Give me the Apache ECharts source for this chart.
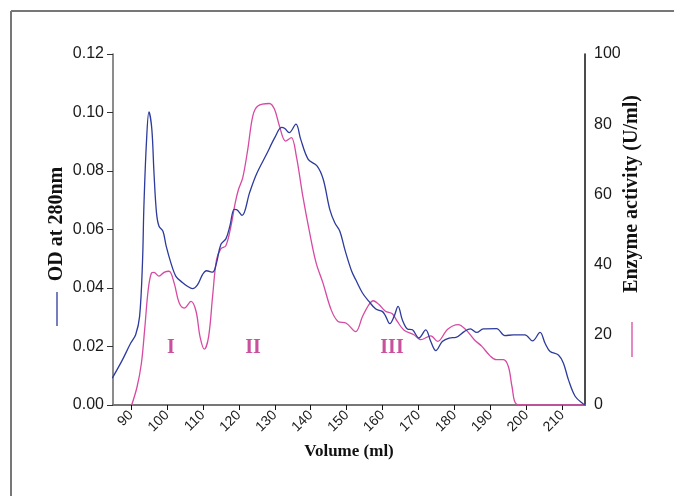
<!DOCTYPE html>
<html>
<head>
<meta charset="utf-8">
<script src="https://cdn.jsdelivr.net/npm/echarts@6/dist/echarts.min.js"></script>
<style>
  html, body { margin: 0; padding: 0; background: #fff; }
  #container { width: 674px; height: 496px; }
</style>
</head>
<body>
<div id="container"></div>
<script>
// OD at 280nm (left axis)
var odVolume = [84.8, 87.4, 89.9, 91.3, 92.4, 93.2, 93.6, 94.3, 95.0, 95.8, 96.4, 97.1, 97.8, 98.9, 99.8,
    101.1, 102.5, 104.3, 105.7, 107.1, 108.5, 109.9, 111.0, 112.7, 113.8, 115.0, 116.4, 117.5, 118.7, 119.4,
    120.9, 123.0, 124.9, 127.7, 130.0, 131.9, 132.8, 134.0, 135.9, 137.2, 139.3, 141.8, 143.5, 145.3, 146.7,
    148.1, 149.5, 151.4, 152.5, 154.4, 156.2, 158.1, 159.9, 160.8, 162.0, 163.2, 164.3, 165.5, 166.9, 168.3,
    170.1, 172.0, 173.4, 174.8, 176.6, 178.5, 180.4, 182.7, 184.4, 186.2, 188.0, 191.7, 194.0, 196.4, 199.6,
    201.7, 203.8, 205.2, 206.6, 208.9, 210.3, 211.7, 213.6, 215.9, 216.3];
var odValues = [0.0092, 0.0149, 0.0211, 0.0240, 0.0303, 0.0486, 0.0680, 0.0897, 0.1002, 0.0943, 0.0794, 0.0657, 0.0611, 0.0594, 0.0543,
    0.0486, 0.0440, 0.0419, 0.0406, 0.0398, 0.0411, 0.0446, 0.0459, 0.0454, 0.0486, 0.0549, 0.0568, 0.0611, 0.0669, 0.0668,
    0.0648, 0.0726, 0.0789, 0.0857, 0.0914, 0.0949, 0.0945, 0.0931, 0.0960, 0.0909, 0.0840, 0.0817, 0.0771, 0.0669, 0.0623,
    0.0594, 0.0531, 0.0457, 0.0429, 0.0383, 0.0354, 0.0328, 0.0320, 0.0305, 0.0278, 0.0303, 0.0337, 0.0291, 0.0260, 0.0257,
    0.0229, 0.0257, 0.0217, 0.0186, 0.0217, 0.0229, 0.0231, 0.0251, 0.0260, 0.0248, 0.0260, 0.0261, 0.0237, 0.0240, 0.0240,
    0.0219, 0.0248, 0.0211, 0.0183, 0.0171, 0.0143, 0.0086, 0.0029, 0.0003, 0.0000];

// Enzyme activity (U/ml) (right axis)
var enzVolume = [90.2, 91.7, 92.9, 93.8, 94.8, 95.7, 96.4, 97.8, 99.2, 100.6, 102.0, 103.4, 104.8, 106.7, 108.1,
    109.2, 110.4, 111.6, 112.7, 113.8, 115.0, 116.4, 117.8, 119.0, 119.9, 121.1, 122.5, 123.9, 125.3, 128.5,
    129.9, 131.3, 133.0, 134.6, 136.0, 137.8, 139.7, 141.5, 143.4, 145.7, 147.6, 149.9, 152.5, 154.4, 156.2,
    157.4, 159.0, 160.8, 162.7, 164.1, 165.9, 168.7, 170.6, 173.4, 175.3, 178.1, 181.0, 183.2, 185.5, 187.6,
    189.9, 191.6, 193.6, 195.0, 196.0, 197.2, 200, 210, 216.3];
var enzValues = [0, 5.2, 11.9, 21.4, 32.9, 37.6, 37.8, 36.7, 37.8, 38.1, 34.8, 29.1, 27.6, 29.5, 26.7,
    19.5, 15.9, 19.5, 30.9, 41.4, 44.5, 45.4, 50.9, 57.6, 61.4, 64.8, 72.9, 82.4, 85.2, 85.9,
    84.3, 79.5, 75.2, 76.2, 70.9, 59.5, 49.1, 40.5, 34.8, 27.1, 23.8, 23.3, 20.9, 25.2, 28.6,
    29.7, 28.6, 26.7, 26.0, 23.8, 21.4, 20.0, 18.6, 19.7, 18.1, 21.6, 22.9, 21.4, 18.6, 16.7,
    14.0, 12.9, 12.9, 10.9, 5.2, 0.3, 0, 0, 0];

var xTicks = [90, 100, 110, 120, 130, 140, 150, 160, 170, 180, 190, 200, 210];
var peakLabels = ['I', 'II', 'III'];

var blue = '#2c3b9c';
var pink = '#d64aa2';
var labelPink = '#c9509c';

function pairs(xs, ys) {
    var out = [];
    for (var i = 0; i < xs.length; i++) {
        out.push([xs[i], ys[i]]);
    }
    return out;
}

var dom = document.getElementById('container');
var myChart = echarts.init(dom, null, { renderer: 'canvas' });

var tickFont = {
    color: '#1a1a1a',
    fontFamily: 'Liberation Sans',
    fontSize: 16
};

var option = {
    animation: false,
    backgroundColor: '#fff',
    grid: {
        left: 113,
        right: 89,
        top: 54,
        bottom: 91
    },
    xAxis: [
        {
            type: 'value',
            min: 85,
            max: 216.3,
            splitLine: { show: false },
            axisLine: { lineStyle: { color: '#111', width: 1.5 } },
            axisTick: {
                customValues: xTicks,
                length: 5,
                lineStyle: { color: '#111', width: 1 }
            },
            axisLabel: {
                customValues: xTicks,
                rotate: 45,
                margin: 8,
                color: '#1a1a1a',
                fontFamily: 'Liberation Sans',
                fontSize: 14
            }
        },
        {
            type: 'value',
            position: 'top',
            min: 85,
            max: 216.3,
            splitLine: { show: false },
            axisLine: { show: true, lineStyle: { color: '#777', width: 2 } },
            axisTick: { show: false },
            axisLabel: { show: false }
        }
    ],
    yAxis: [
        {
            type: 'value',
            min: 0,
            max: 0.12,
            interval: 0.02,
            splitLine: { show: false },
            axisLine: { show: true, lineStyle: { color: '#666', width: 1.5 } },
            axisTick: { show: true, length: 6, lineStyle: { color: '#333' } },
            axisLabel: Object.assign({
                margin: 9,
                formatter: function (v) { return v.toFixed(2); }
            }, tickFont)
        },
        {
            type: 'value',
            min: 0,
            max: 100,
            interval: 20,
            position: 'right',
            splitLine: { show: false },
            axisLine: { show: true, lineStyle: { color: '#111', width: 1.5 } },
            axisTick: { show: false },
            axisLabel: Object.assign({ margin: 9 }, tickFont)
        }
    ],
    series: [
        {
            name: 'OD at 280nm',
            type: 'line',
            xAxisIndex: 0,
            yAxisIndex: 0,
            data: pairs(odVolume, odValues),
            smooth: 0.35,
            showSymbol: false,
            lineStyle: { color: blue, width: 1.3 },
            z: 3
        },
        {
            name: 'Enzyme activity',
            type: 'line',
            xAxisIndex: 0,
            yAxisIndex: 1,
            data: pairs(enzVolume, enzValues),
            smooth: 0.35,
            showSymbol: false,
            lineStyle: { color: pink, width: 1.3 },
            z: 2
        }
    ],
    graphic: [
        // outer frame (top and left edges)
        { type: 'line', shape: { x1: 11, y1: 11, x2: 674, y2: 11 }, style: { stroke: '#777', lineWidth: 2 } },
        { type: 'line', shape: { x1: 11, y1: 11, x2: 11, y2: 496 }, style: { stroke: '#777', lineWidth: 2 } },
        // axis names
        {
            type: 'text', x: 57, y: 224, rotation: Math.PI / 2,
            style: {
                text: 'OD at 280nm', fill: '#111', align: 'center', verticalAlign: 'middle',
                font: 'bold 20px "Liberation Serif"'
            }
        },
        { type: 'line', shape: { x1: 57, y1: 292, x2: 57, y2: 326 }, style: { stroke: blue, lineWidth: 1.3 } },
        {
            type: 'text', x: 632, y: 194, rotation: Math.PI / 2,
            style: {
                text: 'Enzyme activity (U/ml)', fill: '#111', align: 'center', verticalAlign: 'middle',
                font: 'bold 20px "Liberation Serif"'
            }
        },
        { type: 'line', shape: { x1: 632, y1: 322, x2: 632, y2: 357 }, style: { stroke: pink, lineWidth: 1.3 } },
        {
            type: 'text', x: 349, y: 452,
            style: {
                text: 'Volume (ml)', fill: '#111', align: 'center', verticalAlign: 'middle',
                font: 'bold 17px "Liberation Serif"'
            }
        },
        // peak labels
        {
            type: 'text', x: 171, y: 348,
            style: { text: peakLabels[0], fill: labelPink, align: 'center', verticalAlign: 'middle', font: 'bold 20px "Liberation Serif"' }
        },
        {
            type: 'text', x: 253, y: 348,
            style: { text: peakLabels[1], fill: labelPink, align: 'center', verticalAlign: 'middle', font: 'bold 20px "Liberation Serif"' }
        },
        {
            type: 'text', x: 392, y: 348,
            style: { text: peakLabels[2], fill: labelPink, align: 'center', verticalAlign: 'middle', font: 'bold 20px "Liberation Serif"' }
        }
    ]
};

if (option && typeof option === 'object') {
    myChart.setOption(option, true);
}
</script>
</body>
</html>
